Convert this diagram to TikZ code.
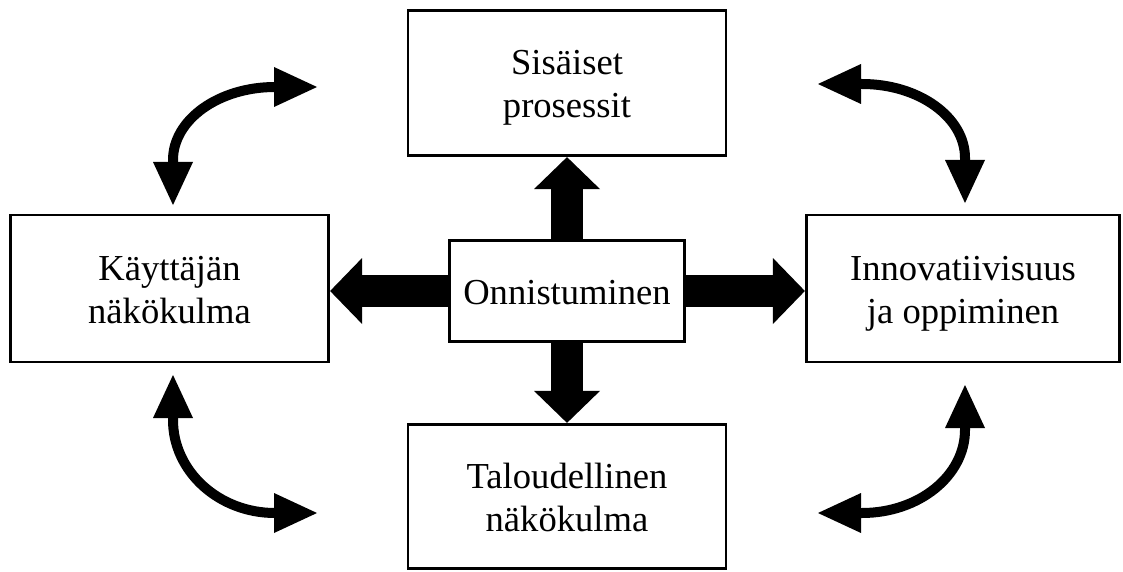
\documentclass[tikz,border=0pt]{standalone}
\usepackage{fontspec}
\setmainfont{Liberation Serif}
\usetikzlibrary{arrows.meta,calc}
\newcommand\lnstrut{\rule[-8pt]{0pt}{42pt}}
\begin{document}
\begin{tikzpicture}[x=1pt,y=-1pt,
  box/.style={draw, line width=2.7pt, fill=white, inner sep=0pt, align=center,
    font=\fontsize{36.6}{43}\selectfont},
  bigarrow/.style={line width=32pt, -{Triangle[length=32pt,width=66pt,line width=0pt]}},
  curvearrow/.style={line width=10pt, {Triangle[length=43pt,width=40pt,line width=0pt]}-{Triangle[length=43pt,width=40pt,line width=0pt]}}]
\useasboundingbox (0,0) rectangle (1123,572);
% boxes
\node[box, minimum width=318pt, minimum height=145.5pt] (top) at (567,83)
  {Sis\"aiset\lnstrut\\prosessit\lnstrut};
\node[box, minimum width=318.5pt, minimum height=147pt] (left) at (169.5,288.5)
  {K\"aytt\"aj\"an\lnstrut\\n\"ak\"okulma\lnstrut};
\node[box, minimum width=313.5pt, minimum height=147pt] (right) at (963,288.5)
  {Innovatiivisuus\lnstrut\\ja oppiminen\lnstrut};
\node[box, minimum width=318pt, minimum height=144.5pt] (bot) at (567,496.5)
  {Taloudellinen\lnstrut\\n\"ak\"okulma\lnstrut};
\node[box, minimum width=235.5pt, minimum height=101.5pt] (c) at (567,291)
  {Onnistuminen\lnstrut};
% block arrows
\draw[bigarrow] (c.north) -- (top.south);
\draw[bigarrow] (c.west) -- (c.west -| left.east);
\draw[bigarrow] (c.east) -- (c.east -| right.west);
\draw[bigarrow] (c.south) -- (c.south |- bot.north);
% curved arrows
\coordinate (tlA) at (173,205);
\coordinate (tlB) at (317,87);
\coordinate (trA) at (818,84);
\coordinate (trB) at (965,203);
\coordinate (blA) at (173,375);
\coordinate (blB) at (317,513);
\coordinate (brA) at (965,385);
\coordinate (brB) at (818,513);
\draw[curvearrow] (tlA) -- (173,160) .. controls (173,119.7) and (218.7,87) .. (275,87) -- (tlB);
\draw[curvearrow] (trA) -- (862,84) .. controls (918.9,84) and (965,117.2) .. (965,158) -- (trB);
\draw[curvearrow] (blA) -- (173,420) .. controls (173,471.3) and (218.7,513) .. (275,513) -- (blB);
\draw[curvearrow] (brA) -- (965,430) .. controls (965,475.8) and (918.9,513) .. (862,513) -- (brB);
\end{tikzpicture}
\end{document}
